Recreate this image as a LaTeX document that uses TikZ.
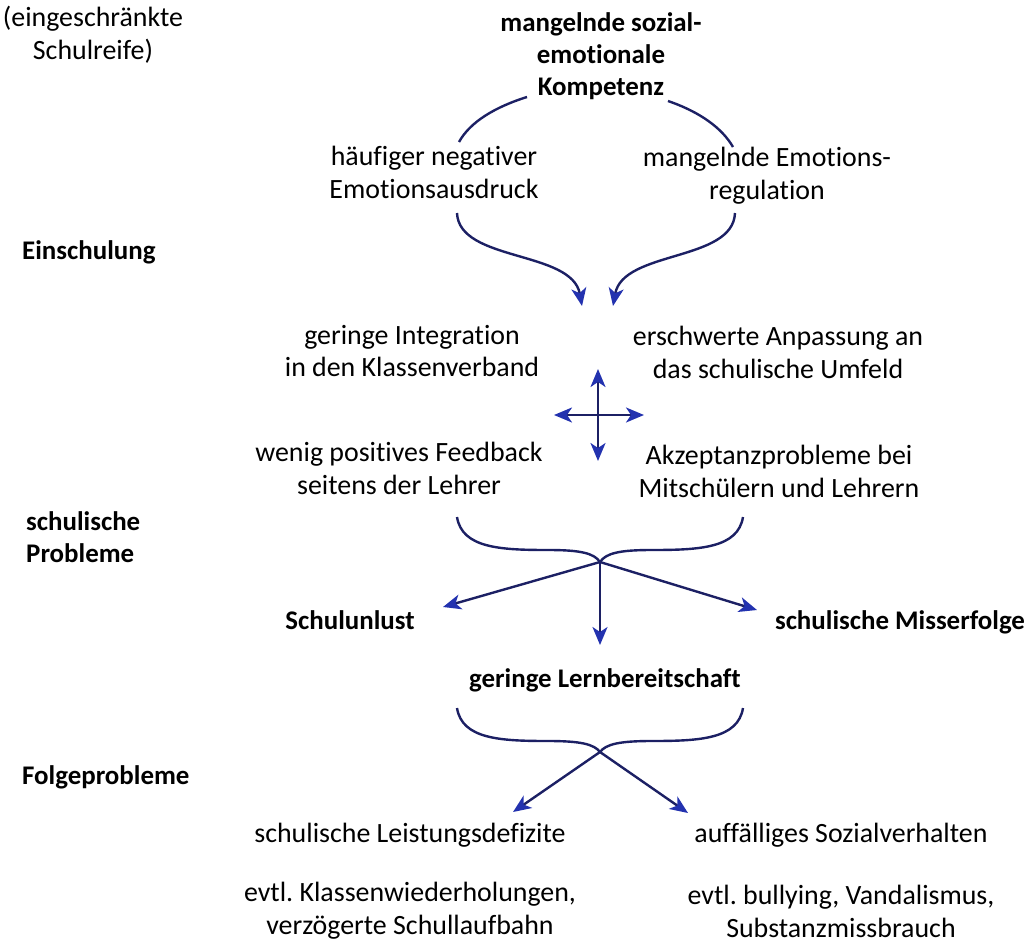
\documentclass[tikz,border=0pt]{standalone}
\usepackage{fontspec}
\setmainfont{Carlito}[Ligatures=NoCommon]
\usetikzlibrary{arrows.meta, positioning}

\definecolor{linie}{RGB}{28,32,100}
\definecolor{spitze}{RGB}{35,50,175}

\tikzset{
  txt/.style={align=center, inner sep=0pt, font=\fontsize{28}{33}\selectfont},
  fett/.style={align=center, inner sep=0pt, font=\bfseries\fontsize{27}{32}\selectfont},
  seite/.style={fett, align=left, anchor=west},
  bogen/.style={draw=linie, line width=2.4bp},
  pfeil/.style={bogen, -{Stealth[length=18bp, width=15bp, inset=5bp, color=spitze]}},
}

\frenchspacing
\begin{document}
\begin{tikzpicture}[x=1bp, y=-1bp]
        \useasboundingbox (0,0) rectangle (1028,943);

        % Spalte links
        \node[txt] (schulreife) at (93,35) {(eingeschränkte\\Schulreife)};
        \node[seite] (einschulung) at (22,252) {Einschulung};
        \node[seite] (schulprobleme) at (26,537) {schulische\\Probleme};
        \node[seite] (folgeprobleme) at (22,777) {Folgeprobleme};

        % Texte
        \node[fett] (kompetenz) at (601,56) {mangelnde sozial-\\emotionale\\Kompetenz};
        \node[txt] (ausdruck) at (434,172) {häufiger negativer\\Emotionsausdruck};
        \node[txt] (regulation) at (767,176) {mangelnde Emotions-\\regulation};
        \node[txt] (integration) at (412,351) {geringe Integration\\in den Klassenverband};
        \node[txt] (anpassung) at (778,352) {erschwerte Anpassung an\\das schulische Umfeld};
        \node[txt] (feedback) at (399,468) {wenig positives Feedback\\seitens der Lehrer};
        \node[txt] (akzeptanz) at (779,471) {Akzeptanzprobleme bei\\Mitschülern und Lehrern};
        \node[fett] (unlust) at (350,620) {Schulunlust};
        \node[fett] (misserfolge) at (900,622) {schulische Misserfolge};
        \node[fett] (lernbereitschaft) at (605,680) {geringe Lernbereitschaft};
        \node[txt] (leistung) at (410,835) {schulische Leistungsdefizite};
        \node[txt] (sozial) at (841,835) {auffälliges Sozialverhalten};
        \node[txt] (folgenL) at (410,911) {evtl. Klassenwiederholungen,\\verzögerte Schullaufbahn};
        \node[txt] (folgenR) at (841,911) {evtl. bullying, Vandalismus,\\Substanzmissbrauch};

        % Endpunkte der Bögen
        \coordinate (k1) at (527,97);  \coordinate (k2) at (459,142);
        \coordinate (k3) at (668,101); \coordinate (k4) at (733,147);
        \coordinate (a1) at (457,213); \coordinate (a2) at (582,306);
        \coordinate (a3) at (735,213); \coordinate (a4) at (613,306);
        \coordinate (kreuz) at (598,415);
        \coordinate (b1) at (457,517); \coordinate (b2) at (743,517);
        \coordinate (j1) at (600,562);
        \coordinate (t1) at (443,607); \coordinate (t2) at (600,645);
        \coordinate (t3) at (757,610);
        \coordinate (c1) at (457,708); \coordinate (c2) at (743,708);
        \coordinate (j2) at (600,752);
        \coordinate (t4) at (513,812); \coordinate (t5) at (688,813);

        % Kompetenz -> Teilaspekte
        \draw[bogen] (k1) .. controls (495,107) and (470,122) .. (k2);
        \draw[bogen] (k3) .. controls (700,112) and (722,128) .. (k4);

        % Einschulung
        \draw[pfeil] (a1) .. controls (459,262) and (572,250) .. (a2);
        \draw[pfeil] (a3) .. controls (733,262) and (623,250) .. (a4);

        % Kreuz
        \foreach \dx/\dy in {-44/0, 46/0, 0/-46, 0/46} {
            \draw[pfeil] (kreuz) -- ++(\dx,\dy);
        }

        % schulische Probleme
        \draw[bogen] (b1) .. controls (462,548) and (500,550) .. (548,550)
                     .. controls (580,550) and (594,553) .. (j1);
        \draw[bogen] (b2) .. controls (738,548) and (700,550) .. (652,550)
                     .. controls (620,550) and (606,553) .. (j1);
        \foreach \t in {t1,t2,t3} {
            \draw[pfeil] (j1) -- (\t);
        }

        % Folgeprobleme
        \draw[bogen] (c1) .. controls (462,739) and (500,741) .. (548,741)
                     .. controls (580,741) and (594,744) .. (j2);
        \draw[bogen] (c2) .. controls (738,739) and (700,741) .. (652,741)
                     .. controls (620,741) and (606,744) .. (j2);
        \draw[pfeil] (j2) -- (t4);
        \draw[pfeil] (j2) -- (t5);
\end{tikzpicture}
\end{document}
